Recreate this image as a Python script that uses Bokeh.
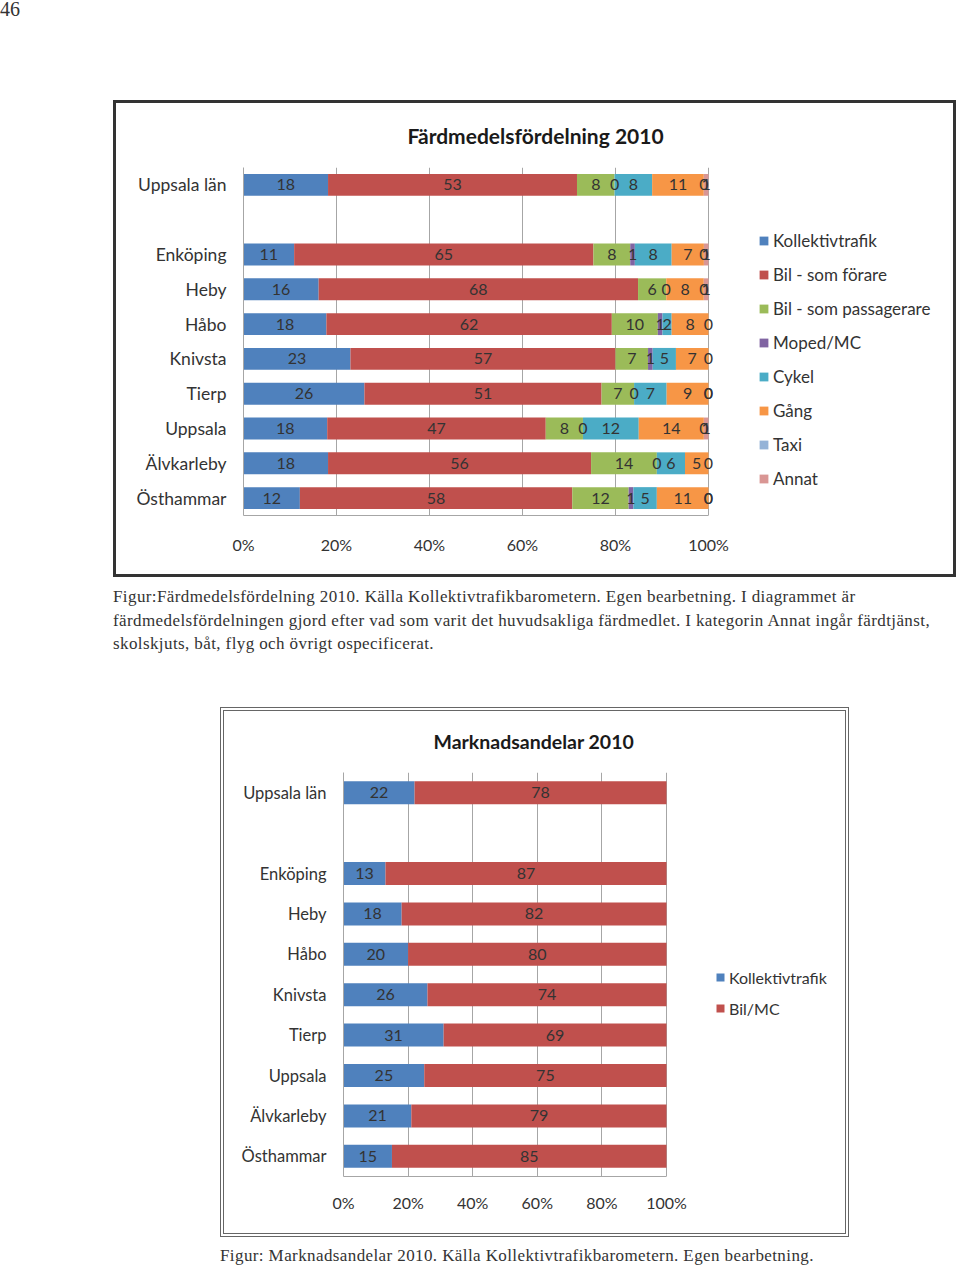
from bokeh.plotting import figure
from bokeh.models import (ColumnDataSource, Range1d, FixedTicker, Legend,
                          LegendItem, Div, Spacer)
from bokeh.layouts import column, row
from bokeh.embed import file_html
from bokeh.resources import INLINE
from bokeh.core.properties import value

# ---------------- data ----------------
places = ["Uppsala län", "Enköping", "Heby", "Håbo", "Knivsta", "Tierp",
          "Uppsala", "Älvkarleby", "Östhammar"]

# Färdmedelsfördelning 2010 (percent); None = no label shown
kollektivtrafik = [18, 11, 16, 18, 23, 26, 18, 18, 12]
bil_forare = [53, 65, 68, 62, 57, 51, 47, 56, 58]
bil_passagerare = [8, 8, 6, 10, 7, 7, 8, 14, 12]
moped_mc = [0, 1, 0, 1, 1, 0, 0, 0, 1]
cykel = [8, 8, None, 2, 5, 7, 12, 6, 5]
gang = [11, 7, 8, 8, 7, 9, 14, 5, 11]
taxi = [0, 0, 0, 0, 0, 0, 0, 0, 0]
annat = [1, 1, 1, None, None, 0, 1, None, 0]

fd_names = ["Kollektivtrafik", "Bil - som förare", "Bil - som passagerare",
            "Moped/MC", "Cykel", "Gång", "Taxi", "Annat"]
fd_colors = ["#4F81BD", "#C0504D", "#9BBB59", "#8064A2", "#4BACC6",
             "#F79646", "#95B3D7", "#D99694"]

# Marknadsandelar 2010 (percent)
mk_kollektivtrafik = [22, 13, 18, 20, 26, 31, 25, 21, 15]
mk_bil_mc = [78, 87, 82, 80, 74, 69, 75, 79, 85]
mk_names = ["Kollektivtrafik", "Bil/MC"]
mk_colors = ["#4F81BD", "#C0504D"]

x_ticks = [0, 20, 40, 60, 80, 100]
x_tick_labels = ["0%", "20%", "40%", "60%", "80%", "100%"]

FONT = "Lato"
TXT = "#333333"

# row slots: Uppsala län at top, one empty slot, then the municipalities
ypos = [9] + [7 - i for i in range(len(places) - 1)]


def make_chart(title, series, names, colors, W, H, left, top, fw, fh,
               px_per_100, bar_h, title_offset, title_size, title_standoff,
               ylab_size, xlab_standoff, leg_loc, leg_spacing, leg_glyph,
               leg_size, border):
    xmax = 100.0 * fw / px_per_100
    p = figure(width=W, height=H, x_range=Range1d(0, xmax),
               y_range=Range1d(-0.5, 9.5), output_backend="svg",
               toolbar_location=None, min_border_left=left,
               min_border_right=W - left - fw, min_border_top=top,
               min_border_bottom=H - top - fh)
    p.margin = 0
    p.outline_line_color = None
    p.background_fill_color = "white"
    p.border_fill_color = "white"
    p.styles = {"border": border}

    n = len(places)
    totals = [sum((s[i] or 0) for s in series) for i in range(n)]
    cum = [0.0] * n
    renderers = []
    lab_x, lab_y, lab_t = [], [], []
    for s, name, col in zip(series, names, colors):
        lefts, rights = [], []
        for i in range(n):
            v = s[i] or 0
            l = cum[i]
            r = l + 100.0 * v / totals[i]
            lefts.append(l)
            rights.append(r)
            cum[i] = r
            if s[i] is not None:
                lab_x.append((l + r) / 2)
                lab_y.append(ypos[i])
                lab_t.append(str(s[i]))
        src = ColumnDataSource(dict(y=ypos, left=lefts, right=rights))
        r = p.hbar(y="y", left="left", right="right", height=bar_h,
                   fill_color=col, line_color=None, source=src)
        renderers.append(r)

    lsrc = ColumnDataSource(dict(x=lab_x, y=lab_y, t=lab_t))
    p.text(x="x", y="y", text="t", source=lsrc, text_align="center",
           text_baseline="middle", text_font=value(FONT),
           text_font_size="16px", text_color=TXT)

    # axes
    p.xaxis.ticker = FixedTicker(ticks=x_ticks)
    p.xaxis.major_label_overrides = dict(zip(x_ticks, x_tick_labels))
    p.xaxis.bounds = (0, 100)
    p.xaxis.major_tick_in = 0
    p.xaxis.major_tick_out = 0
    p.xaxis.minor_tick_line_color = None
    p.xaxis.axis_line_color = "#A6A6A6"
    p.xaxis.major_label_standoff = xlab_standoff
    p.xaxis.major_label_text_font = FONT
    p.xaxis.major_label_text_font_size = "16px"
    p.xaxis.major_label_text_color = TXT

    p.yaxis.ticker = FixedTicker(ticks=ypos)
    p.yaxis.major_label_overrides = dict(zip(ypos, places))
    p.yaxis.major_tick_in = 0
    p.yaxis.major_tick_out = 0
    p.yaxis.minor_tick_line_color = None
    p.yaxis.axis_line_color = "#A6A6A6"
    p.yaxis.major_label_standoff = 17
    p.yaxis.major_label_text_font = FONT
    p.yaxis.major_label_text_font_size = ylab_size
    p.yaxis.major_label_text_color = TXT

    p.xgrid.ticker = FixedTicker(ticks=x_ticks)
    p.xgrid.grid_line_color = "#A6A6A6"
    p.ygrid.grid_line_color = None

    # title
    p.title.text = title
    p.title.align = "left"
    p.title.offset = title_offset
    p.title.vertical_align = "top"
    p.title.standoff = title_standoff
    p.title.text_font = FONT
    p.title.text_font_size = title_size
    p.title.text_font_style = "bold"
    p.title.text_color = "#1a1a1a"

    # legend (inside the widened frame, right of the bars)
    leg = Legend(items=[LegendItem(label=nm, renderers=[r])
                        for nm, r in zip(names, renderers)],
                 location=leg_loc, orientation="vertical")
    leg.background_fill_alpha = 0
    leg.border_line_color = None
    leg.padding = 0
    leg.margin = 0
    leg.spacing = leg_spacing
    leg.glyph_width = leg_glyph
    leg.glyph_height = leg_glyph
    leg.label_height = 20
    leg.label_standoff = 4
    leg.label_text_font = FONT
    leg.label_text_font_size = leg_size
    leg.label_text_color = TXT
    p.add_layout(leg, "center")
    return p


p1 = make_chart("Färdmedelsfördelning 2010",
                [kollektivtrafik, bil_forare, bil_passagerare, moped_mc, cykel,
                 gang, taxi, annat],
                fd_names, fd_colors, W=843, H=477, left=127, top=64,
                fw=702, fh=348, px_per_100=465, bar_h=0.63, title_offset=164,
                title_size="21px", title_standoff=36, ylab_size="17.5px",
                xlab_standoff=19, leg_loc=(515, 26), leg_spacing=13,
                leg_glyph=11, leg_size="17px", border="3px solid #333333")

p2 = make_chart("Marknadsandelar 2010", [mk_kollektivtrafik, mk_bil_mc],
                mk_names, mk_colors, W=629, H=530, left=119, top=61,
                fw=497, fh=404, px_per_100=323, bar_h=0.57, title_offset=90,
                title_size="19.5px", title_standoff=35, ylab_size="16.5px",
                xlab_standoff=16, leg_loc=(372, 158), leg_spacing=11,
                leg_glyph=10, leg_size="16px", border="4px double #666666")

serif = ("font-family:'Liberation Serif',serif;color:#333;white-space:nowrap;")

page_no = Div(text=f"<div style=\"{serif}font-size:20px;line-height:18px;\">46</div>",
              width=960, height=100, margin=0)

cap1 = Div(text=(f"<div style=\"{serif}font-size:17px;letter-spacing:0.4px;"
                 "line-height:23.5px;padding-left:113px;padding-top:8px;\">"
                 "Figur:Färdmedelsfördelning 2010. Källa Kollektivtrafikbarometern. "
                 "Egen bearbetning. I diagrammet är<br>"
                 "färdmedelsfördelningen gjord efter vad som varit det huvudsakliga "
                 "färdmedlet. I kategorin Annat ingår färdtjänst,<br>"
                 "skolskjuts, båt, flyg och övrigt ospecificerat.</div>"),
           width=960, height=130, margin=0)

cap2 = Div(text=(f"<div style=\"{serif}font-size:17px;letter-spacing:0.4px;"
                 "line-height:20px;padding-left:220px;padding-top:9px;\">"
                 "Figur: Marknadsandelar 2010. Källa Kollektivtrafikbarometern. "
                 "Egen bearbetning.</div>"),
           width=960, height=31, margin=0)

layout = column(
    page_no,
    row(Spacer(width=113, height=477, margin=0), p1, margin=0),
    cap1,
    row(Spacer(width=220, height=530, margin=0), p2, margin=0),
    cap2,
    margin=0, spacing=0,
)

open("out.html", "w").write(file_html(layout, INLINE))
